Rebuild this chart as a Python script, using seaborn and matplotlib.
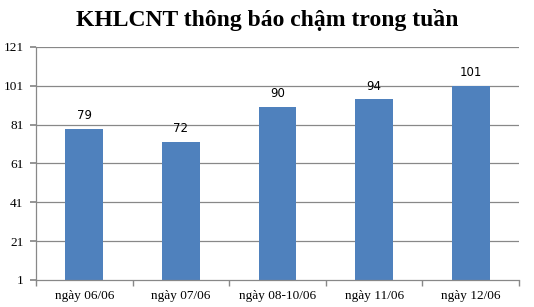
import matplotlib
matplotlib.use("Agg")
import matplotlib.pyplot as plt
import seaborn as sns
import pandas as pd
import numpy as np

categories = ["ngày 06/06", "ngày 07/06", "ngày 08-10/06", "ngày 11/06", "ngày 12/06"]
values = [79, 72, 90, 94, 101]
yticks = [1, 21, 41, 61, 81, 101, 121]

sns.set_theme(style="white")
plt.rcParams['font.family'] = ['Liberation Serif', 'DejaVu Serif']
plt.rcParams['text.color'] = 'black'
plt.rcParams['xtick.color'] = 'black'
plt.rcParams['ytick.color'] = 'black'

df = pd.DataFrame({"cat": categories, "val": values})
fig = plt.figure(figsize=(5.34, 3.07), dpi=100)
ax = fig.add_axes([0.0674, 0.088, 0.9046, 0.759])
sns.barplot(data=df, x="cat", y="val", color="#4F81BD", saturation=1, width=0.39, ax=ax, linewidth=0)
ax.set_ylim(1, 121)
ax.set_xlim(-0.5, 4.5)
ax.set_yticks(yticks)
ax.set_yticklabels([str(t) for t in yticks], fontsize=9.5)
for t in yticks[1:]:
    ax.axhline(t, color="#888888", lw=0.9, zorder=0)
ax.set_xlabel("")
ax.set_ylabel("")
ax.set_xticks(range(len(categories)))
ax.set_xticklabels(categories, fontsize=9.5)
ax.tick_params(axis="x", length=0, pad=7, labelcolor="black")
ax.set_xticks(np.arange(-0.5, 5, 1), minor=True)
ax.tick_params(axis="x", which="minor", length=4, color="#888888", direction="out", bottom=True)
ax.tick_params(axis="y", length=4, color="#888888", direction="out", left=True, pad=5, labelcolor="black")
for s in ["top", "right"]:
    ax.spines[s].set_visible(False)
for s in ["left", "bottom"]:
    ax.spines[s].set_color("#888888")
    ax.spines[s].set_linewidth(0.9)
for i, v in enumerate(values):
    ax.text(i, v + 3.5, str(v), ha="center", va="bottom", fontsize=8.5, family="DejaVu Sans", color="black")
fig.suptitle("KHLCNT thông báo chậm trong tuần", fontsize=17, fontweight="bold", y=0.97, color="black")
fig.savefig("out.png", dpi=100)
